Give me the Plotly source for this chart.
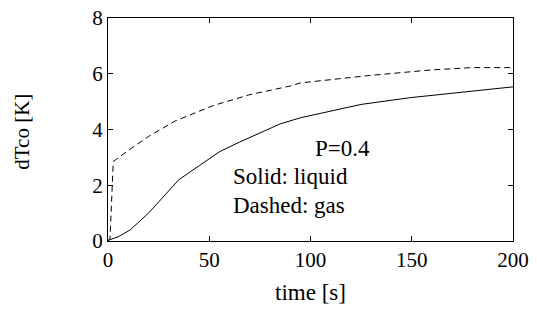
import plotly.graph_objects as go

t_liquid = [0, 1, 5, 11, 20, 35, 45, 55, 65, 85, 95, 110, 125, 149, 170, 185, 200]
dT_liquid = [0, 0.05, 0.15, 0.4, 1.0, 2.2, 2.7, 3.2, 3.55, 4.2, 4.42, 4.65, 4.9, 5.14, 5.3, 5.42, 5.53]

t_gas = [0, 1, 2.6, 10, 20, 33, 52, 70, 90, 95, 128, 160, 180, 200]
dT_gas = [0, 0.1, 2.85, 3.25, 3.75, 4.3, 4.86, 5.25, 5.56, 5.67, 5.93, 6.14, 6.22, 6.22]

x_ticks = [0, 50, 100, 150, 200]
y_ticks = [0, 2, 4, 6, 8]

FONT = "Liberation Serif"

fig = go.Figure()
fig.add_trace(go.Scatter(x=t_liquid, y=dT_liquid, mode="lines",
                         line=dict(color="black", width=1), name="liquid"))
fig.add_trace(go.Scatter(x=t_gas, y=dT_gas, mode="lines",
                         line=dict(color="black", width=1, dash="6px,4px"), name="gas"))

axis_common = dict(showline=True, linecolor="black", linewidth=1, mirror="ticks",
                   ticks="inside", ticklen=5, tickcolor="black", showgrid=False,
                   zeroline=False, automargin=False, ticklabeloverflow="allow",
                   tickfont=dict(family=FONT, size=21, color="black"))

fig.update_xaxes(range=[0, 200], tickvals=x_ticks, **axis_common)
fig.update_yaxes(range=[0, 8], tickvals=y_ticks, **axis_common)

ann_font = dict(family=FONT, size=23, color="black")
fig.add_annotation(x=0.580, y=0.414, xref="paper", yref="paper", text="P=0.4",
                   showarrow=False, font=ann_font, xanchor="center", yanchor="middle")
fig.add_annotation(x=0.3037, y=0.291, xref="paper", yref="paper", text="Solid: liquid",
                   showarrow=False, font=ann_font, xanchor="left", yanchor="middle")
fig.add_annotation(x=0.3037, y=0.160, xref="paper", yref="paper", text="Dashed: gas",
                   showarrow=False, font=ann_font, xanchor="left", yanchor="middle")
# axis titles
fig.add_annotation(x=0.501, y=-0.230, xref="paper", yref="paper", text="time [s]",
                   showarrow=False, font=dict(family=FONT, size=23, color="black"),
                   xanchor="center", yanchor="middle")
fig.add_annotation(x=-0.2123, y=0.49, xref="paper", yref="paper", text="dTco [K]",
                   showarrow=False, font=dict(family=FONT, size=21, color="black"),
                   textangle=-90, xanchor="center", yanchor="middle")

fig.update_layout(template="none", width=529, height=301,
                  margin=dict(l=100, r=24, t=10, b=68),
                  plot_bgcolor="white", paper_bgcolor="white", showlegend=False)

fig.write_html("out.html")
